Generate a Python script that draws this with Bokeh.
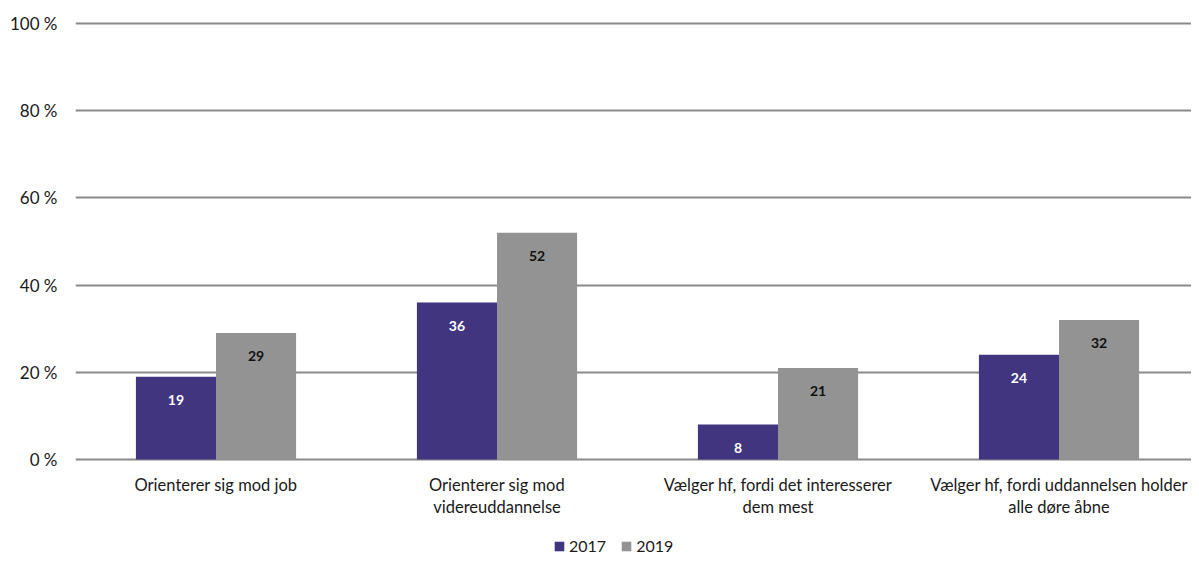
from bokeh.plotting import figure
from bokeh.models import ColumnDataSource, Legend, LegendItem, FixedTicker, LabelSet, Range1d
from bokeh.core.properties import value
from bokeh.transform import dodge
from bokeh.embed import file_html
from bokeh.resources import INLINE

categories = [
    "Orienterer sig mod job",
    "Orienterer sig mod\nvidereuddannelse",
    "Vælger hf, fordi det interesserer\ndem mest",
    "Vælger hf, fordi uddannelsen holder\nalle døre åbne",
]
values_2017 = [19, 36, 8, 24]
values_2019 = [29, 52, 21, 32]
series_names = ["2017", "2019"]
y_ticks = [0, 20, 40, 60, 80, 100]
y_tick_labels = ["0 %", "20 %", "40 %", "60 %", "80 %", "100 %"]

PURPLE = "#413580"
GRAY = "#939393"
TEXT = "#1a1a1a"
FONT = "Lato"

PX_PER_UNIT = 4.36
src = ColumnDataSource(dict(
    pos=[i + 0.5 for i in range(len(categories))],
    cat=categories,
    v17=values_2017,
    v19=values_2019,
    t17=[str(v) for v in values_2017],
    t19=[str(v) for v in values_2019],
))

W, H = 1191, 555
LEFT, TOP = 75, 20
frame_w = W - LEFT
frame_h = H - TOP
x_end = frame_w / 281.0
y_top = 100 + 3 / PX_PER_UNIT
y_bot = y_top - frame_h / PX_PER_UNIT

p = figure(
    x_range=Range1d(0, x_end),
    y_range=Range1d(y_bot, y_top),
    width=W, height=H,
    output_backend="svg", toolbar_location=None,
    min_border_left=LEFT, min_border_top=TOP, min_border_right=0, min_border_bottom=0,
)
p.outline_line_color = None
p.background_fill_color = "white"

BW = 0.285
r17 = p.vbar(x=dodge("pos", -BW / 2), top="v17", width=BW, source=src,
             fill_color=PURPLE, line_color=None)
r19 = p.vbar(x=dodge("pos", BW / 2), top="v19", width=BW, source=src,
             fill_color=GRAY, line_color=None)

lab17 = LabelSet(x=dodge("pos", -BW / 2), y="v17", text="t17", source=src,
                 y_offset=-23, text_align="center", text_baseline="middle",
                 text_color="white", text_font=value(FONT), text_font_size="14px",
                 text_font_style="bold")
lab19 = LabelSet(x=dodge("pos", BW / 2), y="v19", text="t19", source=src,
                 y_offset=-23, text_align="center", text_baseline="middle",
                 text_color="#111111", text_font=value(FONT), text_font_size="14px",
                 text_font_style="bold")
p.add_layout(lab17)
p.add_layout(lab19)

# category labels below the baseline
p.text(x="pos", y=0, text="cat", source=src, y_offset=15,
       text_align="center", text_baseline="top", text_color=TEXT,
       text_font=value(FONT), text_font_size="16.5px", text_line_height=1.12)

# grid
p.xgrid.grid_line_color = None
p.ygrid.ticker = FixedTicker(ticks=y_ticks)
p.ygrid.grid_line_color = "#8a8a8a"
p.ygrid.grid_line_width = 2

# y axis
p.yaxis.ticker = FixedTicker(ticks=y_ticks)
p.yaxis.major_label_overrides = {t: l for t, l in zip(y_ticks, y_tick_labels)}
p.yaxis.axis_line_color = None
p.yaxis.major_tick_line_color = None
p.yaxis.minor_tick_line_color = None
p.yaxis.major_tick_out = 0
p.yaxis.major_tick_in = 0
p.yaxis.major_label_standoff = 18
p.yaxis.major_label_text_font = FONT
p.yaxis.major_label_text_font_size = "17px"
p.yaxis.major_label_text_color = TEXT

p.xaxis.visible = False

legend = Legend(
    items=[LegendItem(label=series_names[0], renderers=[r17]),
           LegendItem(label=series_names[1], renderers=[r19])],
    orientation="horizontal", location=(478, 0),
    label_text_font=FONT, label_text_font_size="16px", label_text_color=TEXT,
    glyph_width=12, glyph_height=12, label_height=14, label_standoff=4, spacing=14,
    border_line_color=None, background_fill_alpha=0, margin=0, padding=0,
)
p.add_layout(legend)

open("out.html", "w").write(file_html(p, INLINE))
